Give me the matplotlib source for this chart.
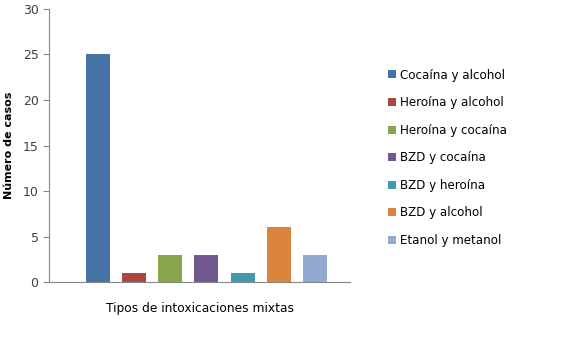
import matplotlib.pyplot as plt

# datos
categorias = ["Cocaína y alcohol", "Heroína y alcohol", "Heroína y cocaína",
              "BZD y cocaína", "BZD y heroína", "BZD y alcohol", "Etanol y metanol"]
casos = [25, 1, 3, 3, 1, 6, 3]
colores = ["#4572A7", "#AA4643", "#89A54E", "#71588F", "#4198AF", "#DB843D", "#93A9CF"]

fig = plt.figure(figsize=(5.79, 3.44), dpi=100)
ax = fig.add_axes([0.0846, 0.180, 0.52, 0.794])

for i, (cat, v, c) in enumerate(zip(categorias, casos, colores)):
    ax.bar(i, v, width=0.66, color=c, label=cat)

ax.set_ylim(0, 30)
ax.set_xlim(-1.34, 6.96)
ax.set_yticks([0, 5, 10, 15, 20, 25, 30])
ax.set_xticks([])
ax.tick_params(axis="y", labelsize=9, colors="#868686", labelcolor="#404040", length=4, width=0.8)

for s in ["top", "right"]:
    ax.spines[s].set_visible(False)
ax.spines["left"].set_color("#868686")
ax.spines["bottom"].set_color("#868686")

ax.set_ylabel("Número de casos", fontsize=8, fontweight="bold", labelpad=6)
ax.set_xlabel("Tipos de intoxicaciones mixtas", fontsize=8.8, labelpad=14)

ax.legend(loc="center left", bbox_to_anchor=(1.09, 0.455), frameon=False,
          fontsize=8.6, handlelength=0.65, handleheight=0.65, handletextpad=0.4,
          labelspacing=1.22)

fig.savefig("out.png", dpi=100)
